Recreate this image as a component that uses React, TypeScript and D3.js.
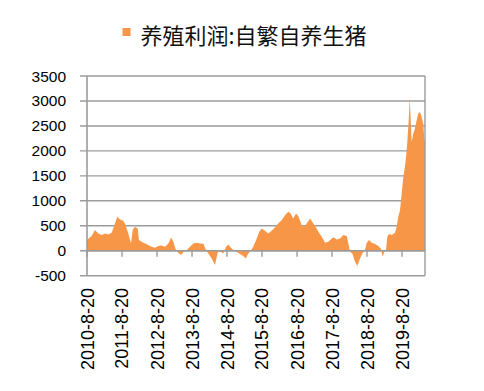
import React from "react";
import * as d3 from "d3";

const seriesName = "养殖利润:自繁自养生猪";

const dates: string[] = [
  "2010-08-20","2010-08-27","2010-10-08","2010-11-11","2010-12-16","2011-01-20","2011-02-24","2011-03-30",
  "2011-05-05","2011-06-08","2011-07-02","2011-07-30","2011-09-03","2011-09-20","2011-10-25","2011-11-22",
  "2011-12-10","2012-01-02","2012-01-31","2012-02-13","2012-03-12","2012-04-16","2012-05-20","2012-06-25",
  "2012-07-29","2012-09-03","2012-10-08","2012-11-12","2012-12-16","2013-01-13","2013-02-06","2013-03-03",
  "2013-03-30","2013-04-27","2013-05-25","2013-06-26","2013-07-30","2013-09-03","2013-10-08","2013-11-12",
  "2013-12-16","2014-01-13","2014-02-06","2014-03-13","2014-04-17","2014-05-05","2014-05-21","2014-06-15",
  "2014-07-12","2014-08-10","2014-09-03","2014-09-28","2014-10-25","2014-11-29","2015-01-02","2015-02-06",
  "2015-03-03","2015-03-30","2015-04-24","2015-05-21","2015-06-26","2015-07-23","2015-08-17","2015-09-20",
  "2015-10-25","2015-11-29","2016-01-02","2016-02-06","2016-03-12","2016-04-16","2016-05-20","2016-06-14",
  "2016-07-11","2016-08-09","2016-09-03","2016-10-08","2016-11-01","2016-11-29","2017-01-02","2017-02-06",
  "2017-03-13","2017-03-30","2017-05-05","2017-06-08","2017-07-12","2017-08-17","2017-09-10","2017-10-08",
  "2017-11-12","2017-12-16","2018-01-20","2018-02-06","2018-02-24","2018-03-20","2018-04-17","2018-05-11",
  "2018-06-08","2018-07-02","2018-07-30","2018-08-17","2018-09-10","2018-10-08","2018-11-12","2018-12-16",
  "2019-01-10","2019-01-31","2019-02-16","2019-03-06","2019-03-20","2019-04-07","2019-05-05","2019-06-08",
  "2019-06-26","2019-07-12","2019-07-30","2019-08-17","2019-09-03","2019-09-20","2019-10-08","2019-10-18",
  "2019-10-29","2019-11-08","2019-11-19","2019-11-29","2019-12-16","2020-01-02","2020-01-20","2020-02-06",
  "2020-02-24","2020-03-12","2020-03-29","2020-04-08","2020-04-16"
];

const profits: number[] = [
  220,230,293,413,347,313,347,327,
  360,547,680,627,600,547,347,147,
  413,480,447,213,180,147,113,80,
  60,93,107,80,147,267,180,27,
  -40,-87,-20,13,80,147,160,147,
  140,13,-53,-153,-287,-120,0,-20,
  -53,80,127,67,13,-20,-67,-107,
  -153,-53,0,80,247,380,447,400,
  347,400,467,547,613,713,780,747,
  647,747,693,513,480,547,647,547,
  447,380,280,160,180,247,267,227,
  247,313,293,147,-20,-53,-220,-307,
  -153,-53,13,160,213,160,133,93,
  47,-120,-20,13,280,333,313,360,
  480,680,813,1147,1480,1680,2013,2280,
  2613,3067,2613,2180,2347,2447,2613,2747,
  2780,2680,2547,2247,2200
];

const yTicks: number[] = [-500, 0, 500, 1000, 1500, 2000, 2500, 3000, 3500];
const xTickDates: string[] = [
  "2010-08-20","2011-08-20","2012-08-20","2013-08-20","2014-08-20",
  "2015-08-20","2016-08-20","2017-08-20","2018-08-20","2019-08-20"
];
const xTickLabels: string[] = [
  "2010-8-20","2011-8-20","2012-8-20","2013-8-20","2014-8-20",
  "2015-8-20","2016-8-20","2017-8-20","2018-8-20","2019-8-20"
];

const W = 484, H = 391;
const left = 87, right = 425, top = 76, bottom = 275.7;
const fill = "#F79646";
const grid = "#9b9b9b";

export default function App() {
  const parse = d3.timeParse("%Y-%m-%d");
  const data = dates.map((d, i) => ({ date: parse(d) as Date, v: profits[i] }));
  const x = d3.scaleTime()
    .domain([parse(dates[0]) as Date, parse(dates[dates.length - 1]) as Date])
    .range([left, right]);
  const y = d3.scaleLinear().domain([-500, 3500]).range([bottom, top]);
  const area = d3.area<{ date: Date; v: number }>()
    .x(d => x(d.date))
    .y0(y(0))
    .y1(d => y(d.v));

  return (
    <svg width={W} height={H} style={{ position: "absolute", left: 0, top: 0, background: "#fff" }}>
      {/* legend */}
      <rect x={122.5} y={28} width={8} height={8} fill={fill} />
      <text x={140.5} y={34} fontFamily="'Noto Sans CJK SC', sans-serif" fontSize={22}
        dominantBaseline="central" fill="#111">{seriesName}</text>

      {/* gridlines and y ticks */}
      {yTicks.map(t => (
        <g key={t}>
          <line x1={80} x2={right} y1={y(t)} y2={y(t)} stroke={grid} strokeWidth={1.4} />
          <text x={66} y={y(t)} textAnchor="end" dominantBaseline="central"
            fontFamily="'Liberation Sans', Arial, sans-serif" fontSize={15.5} fill="#000">{t}</text>
        </g>
      ))}

      <path d={area(data) || ""} fill={fill} />

      {/* zero axis redraw */}
      <line x1={left} x2={right} y1={y(0)} y2={y(0)} stroke={grid} strokeWidth={1.4} />
      {/* frame */}
      <line x1={left} x2={left} y1={top} y2={bottom} stroke={grid} strokeWidth={1.6} />
      <line x1={right} x2={right} y1={top} y2={bottom} stroke={grid} strokeWidth={1.4} />

      {/* x ticks */}
      {xTickDates.map((d, i) => {
        const xx = x(parse(d) as Date);
        return (
          <g key={d}>
            <line x1={xx} x2={xx} y1={y(0)} y2={y(0) + 6} stroke={grid} strokeWidth={1.4} />
            <text transform={`translate(${xx + 0.5},288) rotate(-90)`} textAnchor="end"
              dominantBaseline="central" fontFamily="'Liberation Sans', Arial, sans-serif"
              fontSize={18} fill="#000">{xTickLabels[i]}</text>
          </g>
        );
      })}
    </svg>
  );
}
